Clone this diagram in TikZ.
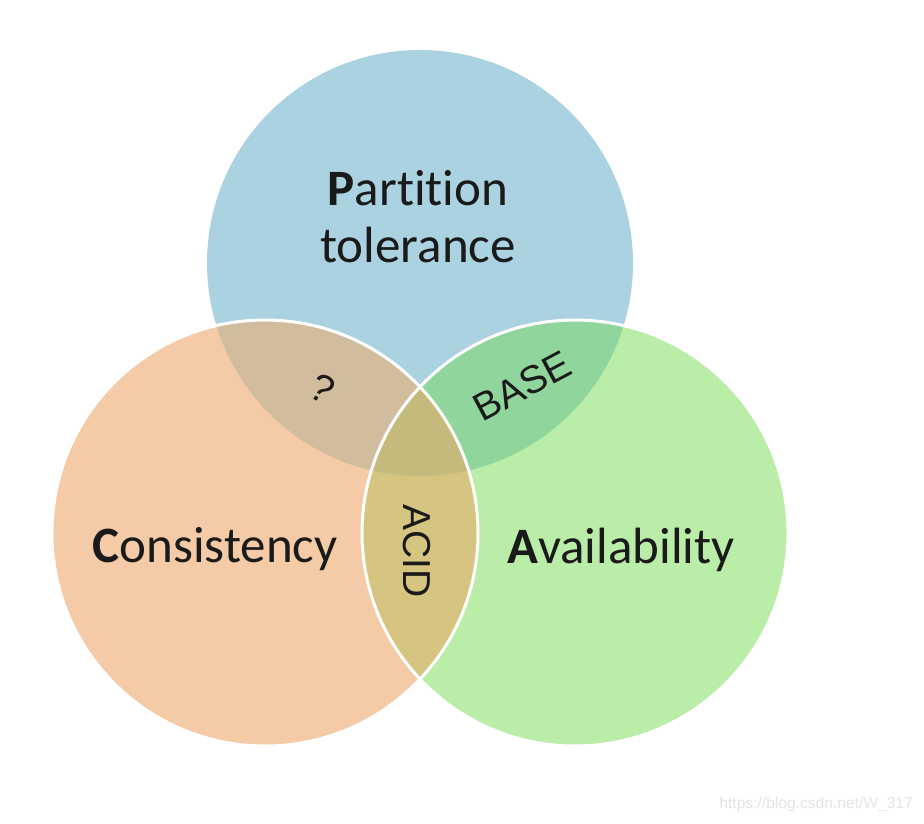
\documentclass[tikz,border=0pt]{standalone}
\usepackage{fontspec}
\setmainfont{Carlito}[Ligatures=NoCommon]
\newfontfamily\arialfont{Liberation Sans}
\definecolor{pcol}{HTML}{ABD2E1}
\definecolor{ccol}{HTML}{F4CBA6}
\definecolor{acol}{HTML}{BAEDA8}
\definecolor{pccol}{HTML}{D2BC9E}
\definecolor{pacol}{HTML}{90D59C}
\definecolor{cacol}{HTML}{D6C581}
\definecolor{pcacol}{HTML}{C4BA7C}
\definecolor{txtcol}{HTML}{1A1A1A}
\definecolor{wmcol}{HTML}{E4E4E4}
\tikzset{
  bigtext/.style={text=txtcol, inner sep=0pt, anchor=base, font=\fontsize{51}{57}\selectfont},
  smalltext/.style={text=txtcol, inner sep=0pt, font=\arialfont\fontsize{39}{44}\selectfont},
  rim/.style={draw=white, line width=3pt},
}
\begin{document}
\begin{tikzpicture}[x=1pt, y=-1pt]
\useasboundingbox (0,0) rectangle (924,824);
\fill[white] (0,0) rectangle (924,824);
\def\R{213}
\coordinate (P) at (420,263);
\coordinate (C) at (265,533);
\coordinate (A) at (575,533);
% base circles
\fill[pcol] (P) circle (\R);
\fill[ccol] (C) circle (\R);
\fill[acol] (A) circle (\R);
% overlaps
\begin{scope}
  \clip (C) circle (\R);
  \fill[pccol] (P) circle (\R);
\end{scope}
\begin{scope}
  \clip (A) circle (\R);
  \fill[pacol] (P) circle (\R);
\end{scope}
\begin{scope}
  \clip (C) circle (\R);
  \fill[cacol] (A) circle (\R);
\end{scope}
\begin{scope}
  \clip (C) circle (\R);
  \clip (P) circle (\R);
  \fill[pcacol] (A) circle (\R);
\end{scope}
% white rims
\draw[rim] (C) circle (\R);
\draw[rim] (A) circle (\R);
% labels
\node[bigtext] (pt1) at (418,205) {\textbf{P}artition};
\node[bigtext] (pt2) at (418,262) {tolerance};
\node[bigtext] (cons) at (215,562) {\textbf{C}onsistency};
\node[bigtext] (avail) at (621,563) {\textbf{A}vailability};
\node[smalltext, rotate=-28] (q) at (322,389) {?};
\node[smalltext, rotate=28] (base) at (522,386) {BASE};
\node[smalltext, rotate=-90] (acid) at (417,551) {ACID};
\node[text=wmcol, inner sep=0pt, anchor=base east, font=\arialfont\fontsize{15.6}{18}\selectfont] (wm) at (913,808) {https://blog.csdn.net/W\_317};
\end{tikzpicture}
\end{document}
